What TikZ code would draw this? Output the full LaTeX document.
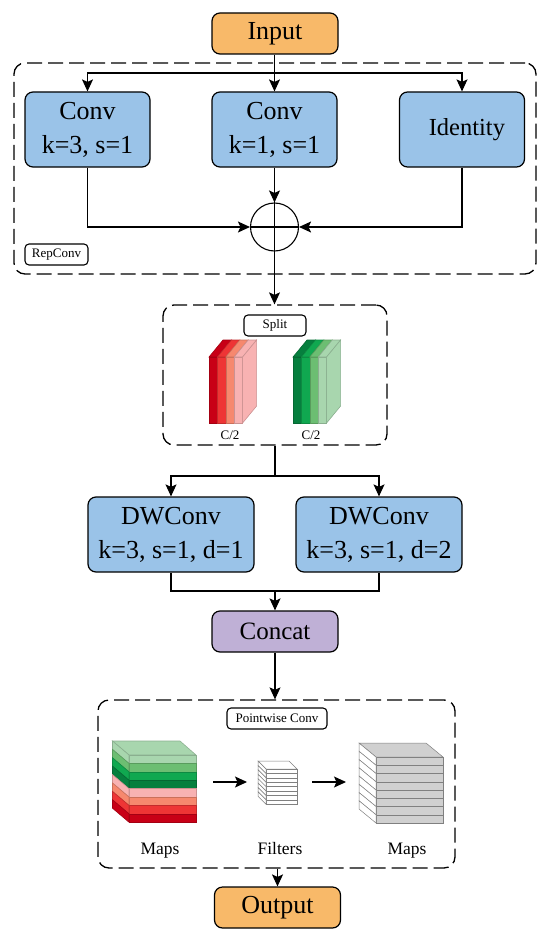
\documentclass[tikz,border=0pt]{standalone}
\usepackage{fontspec}
\setmainfont{Liberation Serif}
\usetikzlibrary{arrows.meta}
\definecolor{cinput}{HTML}{F8B969}
\definecolor{cconv}{HTML}{9AC3E8}
\definecolor{cconcat}{HTML}{BFB0D6}
\definecolor{cgray}{HTML}{D0D0D0}
\definecolor{redA}{HTML}{C80016}
\definecolor{redB}{HTML}{EE3535}
\definecolor{redC}{HTML}{F6886E}
\definecolor{redD}{HTML}{F8B2B2}
\definecolor{greenA}{HTML}{067F3E}
\definecolor{greenB}{HTML}{10A850}
\definecolor{greenC}{HTML}{6CBE72}
\definecolor{greenD}{HTML}{A8D6AE}
\tikzset{
  block/.style={draw,line width=1.2pt,rounded corners=8pt,align=center,inner sep=0pt,font=\fontsize{26}{32}\selectfont},
  convbox/.style={block,fill=cconv,minimum width=125pt,minimum height=75pt},
  dwbox/.style={block,fill=cconv,minimum width=166pt,minimum height=75pt},
  iobox/.style={block,minimum width=126pt,minimum height=41pt},
  groupbox/.style={draw,line width=1.3pt,dash pattern=on 15pt off 6pt,rounded corners=11pt,inner sep=0pt},
  tagbox/.style={draw,line width=1.1pt,rounded corners=4pt,fill=white,inner sep=0pt,minimum height=21pt,font=\fontsize{13}{15}\selectfont},
  small/.style={font=\fontsize{13}{15}\selectfont},
  mapname/.style={anchor=base,font=\fontsize{17.5}{20}\selectfont},
  layer/.style={draw=#1!82!black,line width=.6pt,fill=#1},
  sheet/.style={draw=black!50,line width=.5pt,fill=#1},
}
\begin{document}
\begin{tikzpicture}[x=1pt,y=-1pt,>={Stealth[length=12pt,width=11pt,inset=2.5pt]},line width=1.05pt]
  \useasboundingbox (0,0) rectangle (550,939);
  % groups
  \node[groupbox,minimum width=522pt,minimum height=211pt] (rep) at (275,168.5) {};
  \node[groupbox,minimum width=224pt,minimum height=140pt] (split) at (275,375) {};
  \node[groupbox,minimum width=357pt,minimum height=168pt] (point) at (276.5,784) {};
  \node[tagbox,minimum width=63pt] (reptag) at (56.5,254.5) {RepConv};
  \node[tagbox,minimum width=62pt] (splittag) at (275,325.5) {Split};
  \node[tagbox,minimum width=100pt] (pointtag) at (277,718.5) {Pointwise Conv};
  % blocks
  \node[iobox,fill=cinput] (input) at (275,33.5) {Input};
  \node[convbox] (conva) at (87.5,129.5) {Conv\\[2pt]k=3, s=1};
  \node[convbox] (convb) at (274.5,129.5) {Conv\\[2pt]k=1, s=1};
  \node[convbox,font=\fontsize{24.5}{30}\selectfont,text width=86pt,align=right] (ident) at (462,129.5) {Identity};
  \node[draw,circle,line width=1.1pt,minimum size=48pt,inner sep=0pt] (add) at (274.5,227) {};
  \node[dwbox] (dwa) at (171,534.5) {DWConv\\[2pt]k=3, s=1, d=1};
  \node[dwbox] (dwb) at (379,534.5) {DWConv\\[2pt]k=3, s=1, d=2};
  \node[iobox,fill=cconcat,font=\fontsize{25}{30}\selectfont] (concat) at (275,631.5) {Concat};
  \node[iobox,fill=cinput] (output) at (277.5,907.5) {Output};
  % connectors
  \coordinate (fork) at (274.5,73);
  \coordinate (forkb) at (275,476);
  \coordinate (merge) at (275,591);
  \draw[->] (input.south -| convb) -- (convb.north);
  \draw[->] (fork) -| (conva.north);
  \draw[->] (fork) -| (ident.north);
  \draw[->] (convb.south) -- (add.north);
  \draw[->] (conva.south) |- (add.west);
  \draw[->] (ident.south) |- (add.east);
  \draw (add.north) -- (add.south);
  \draw (add.west) -- (add.east);
  \draw[->] (add.south) -- (split.north -| add);
  \draw (split.south) -- (forkb);
  \draw[->] (forkb) -| (dwa.north);
  \draw[->] (forkb) -| (dwb.north);
  \draw (dwa.south) |- (merge);
  \draw (dwb.south) |- (merge);
  \draw[->] (merge) -- (concat.north);
  \draw[->] (concat.south) -- (point.north -| concat);
  \draw[->] (point.south -| output) -- (output.north);
  % split feature blocks
  \foreach \xa/\cl in {209/redA,217.4/redB,225.8/redC,234.2/redD,293/greenA,301.4/greenB,309.8/greenC,318.2/greenD}{
    \draw[layer=\cl] (\xa,357) rectangle +(8.4,66);
    \draw[layer=\cl] (\xa,357) -- +(14,-17) -- +(22.4,-17) -- +(8.4,0) -- cycle;
  }
  \draw[layer=redD] (242.6,357) -- +(14,-17) -- +(14,49) -- +(0,66) -- cycle;
  \draw[layer=greenD] (326.6,357) -- +(14,-17) -- +(14,49) -- +(0,66) -- cycle;
  \node[small] (halfa) at (230,435) {C/2};
  \node[small] (halfb) at (311,435) {C/2};
  % pointwise conv
  \draw[layer=greenD] (129,755) -- (112.5,741) -- (180,741) -- (196,755) -- cycle;
  \foreach \i/\cl in {0/greenD,1/greenC,2/greenB,3/greenA,4/redD,5/redC,6/redB,7/redA}{
    \draw[layer=\cl] (129,755+\i*8.4) rectangle +(67,8.4);
    \draw[layer=\cl] (129,755+\i*8.4) -- +(-16.5,-14) -- +(-16.5,-5.6) -- +(0,8.4) -- cycle;
  }
  \draw[sheet=white] (266,769) -- (258,761) -- (289,761) -- (297,769) -- cycle;
  \foreach \i in {0,...,7}{
    \draw[sheet=white] (266,769+\i*4.4) rectangle +(31,4.4);
    \draw[sheet=white] (266,769+\i*4.4) -- +(-8,-8) -- +(-8,-3.6) -- +(0,4.4) -- cycle;
  }
  \draw[sheet=cgray] (376,757) -- (359,743) -- (426,743) -- (443,757) -- cycle;
  \foreach \i in {0,...,7}{
    \draw[sheet=cgray] (376,757+\i*8.25) rectangle +(67,8.25);
    \draw[sheet=white] (376,757+\i*8.25) -- +(-17,-14) -- +(-17,-5.75) -- +(0,8.25) -- cycle;
  }
  \coordinate (stepa) at (213,782);
  \coordinate (stepb) at (247,782);
  \coordinate (stepc) at (312,782);
  \coordinate (stepd) at (346,782);
  \draw[->] (stepa) -- (stepb);
  \draw[->] (stepc) -- (stepd);
  \node[mapname] (mapsa) at (160,854) {Maps};
  \node[mapname] (filters) at (280,854) {Filters};
  \node[mapname] (mapsb) at (407,854) {Maps};
\end{tikzpicture}
\end{document}
